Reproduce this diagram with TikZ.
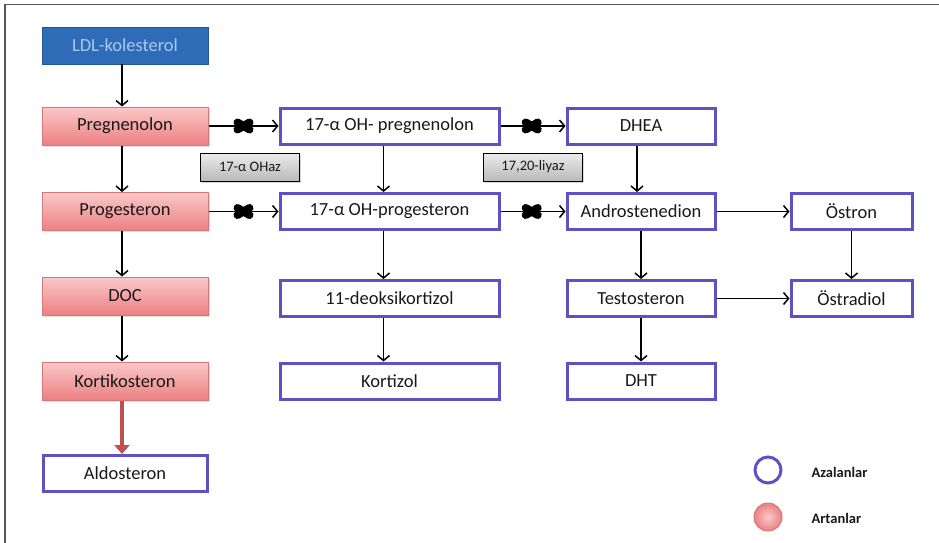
\documentclass[tikz,border=0pt]{standalone}
\usepackage{fontspec}
\setmainfont{Carlito}
\usetikzlibrary{arrows.meta,shadows,calc}
\definecolor{bbord}{RGB}{92,82,196}
\definecolor{pinkT}{RGB}{250,200,200}
\definecolor{pinkB}{RGB}{236,128,130}
\definecolor{pbord}{RGB}{214,120,122}
\definecolor{ldlblue}{RGB}{46,108,184}
\definecolor{ldltext}{RGB}{170,200,240}
\definecolor{redarr}{RGB}{192,80,77}
\definecolor{txt}{RGB}{25,25,25}
\definecolor{frame}{RGB}{85,85,85}
\tikzset{
  base/.style={rectangle, inner sep=0pt, font=\fontsize{18.5}{21}\selectfont, text=txt},
  pinkbox/.style={base, minimum width=166pt, minimum height=38pt, top color=pinkT, bottom color=pinkB, draw=pbord, line width=1pt, drop shadow={shadow xshift=1.5pt, shadow yshift=-1.5pt, opacity=0.25}},
  bluebox/.style={base, minimum height=36pt, fill=white, draw=bbord, line width=3pt},
  ldlbox/.style={base, minimum width=166pt, minimum height=37pt, fill=ldlblue, text=ldltext, draw=ldlblue!80!black, line width=0.6pt},
  graybox/.style={rectangle, inner sep=0pt, minimum width=99pt, minimum height=28pt, top color=gray!15, bottom color=gray!55, draw=black, line width=0.8pt, font=\fontsize{14.5}{16}\selectfont, text=txt, drop shadow={shadow xshift=1.5pt, shadow yshift=-1.5pt, opacity=0.3}},
  arr/.style={draw=black, line width=1.5pt, -{Straight Barb[length=5pt,width=12pt,line width=1.5pt]}},
  redarrow/.style={draw=redarr, line width=3.5pt, -{Triangle[length=9pt,width=15pt]}},
  blobline/.style={line width=8pt, line cap=round, black},
  legtext/.style={font=\bfseries\fontsize{14.5}{16}\selectfont, text=txt, anchor=west}
}
\begin{document}
\begin{tikzpicture}[x=1pt,y=-1pt]
\useasboundingbox (0,0) rectangle (939,543);
\fill[white] (0,0) rectangle (939,543);
\draw[frame, line width=1.6pt] (5,543) -- (5,4.5) -- (939,4.5);

% left column
\node[ldlbox] (ldl) at (125,45.5) {LDL-kolesterol};
\node[pinkbox] (preg) at (125,126) {Pregnenolon};
\node[pinkbox] (prog) at (125,211.5) {Progesteron};
\node[pinkbox] (doc) at (125,296) {DOC};
\node[pinkbox] (korti) at (125,381) {Kortikosteron};
\node[bluebox, minimum width=164pt] (aldo) at (125,473.5) {Aldosteron};

% second column
\node[bluebox, minimum width=219pt] (ohpreg) at (389.5,126) {17-α OH- pregnenolon};
\node[bluebox, minimum width=219pt] (ohprog) at (389.5,211.5) {17-α OH-progesteron};
\node[bluebox, minimum width=219pt] (deoksi) at (389.5,298.5) {11-deoksikortizol};
\node[bluebox, minimum width=219pt] (kortizol) at (389.5,381) {Kortizol};

% third column
\node[bluebox, minimum width=148pt] (dhea) at (641,126) {DHEA};
\node[bluebox, minimum width=148pt] (andro) at (641,211.5) {Androstenedion};
\node[bluebox, minimum width=148pt] (testo) at (641,298.5) {Testosteron};
\node[bluebox, minimum width=148pt] (dht) at (641,381) {DHT};

% fourth column
\node[bluebox, minimum width=121pt] (ostron) at (851.5,211.5) {Östron};
\node[bluebox, minimum width=121pt] (ostradiol) at (851.5,298.5) {Östradiol};

% enzyme labels
\node[graybox] (ohaz) at (250,167) {17-α OHaz};
\node[graybox] (liyaz) at (533,167) {17,20-liyaz};

% vertical arrows
\draw[arr] ([xshift=-3pt]ldl.south) -- ([xshift=-3pt]preg.north);
\draw[arr] ([xshift=-3pt]preg.south) -- ([xshift=-3pt]prog.north);
\draw[arr] ([xshift=-3pt]prog.south) -- ([xshift=-3pt]doc.north);
\draw[arr] ([xshift=-3pt]doc.south) -- ([xshift=-3pt]korti.north);
\draw[redarrow] ([xshift=-3pt]korti.south) -- ([xshift=-3pt]aldo.north);
\draw[arr] ([xshift=-6pt]ohpreg.south) -- ([xshift=-6pt]ohprog.north);
\draw[arr] ([xshift=-6pt]ohprog.south) -- ([xshift=-6pt]deoksi.north);
\draw[arr] ([xshift=-6pt]deoksi.south) -- ([xshift=-6pt]kortizol.north);
\draw[arr] ([xshift=-4pt]dhea.south) -- ([xshift=-4pt]andro.north);
\draw[arr] (andro) -- (testo);
\draw[arr] (testo) -- (dht);
\draw[arr] (ostron) -- (ostradiol);

% horizontal arrows
\draw[arr] (preg) -- coordinate (b1) (ohpreg);
\draw[arr] (ohpreg) -- coordinate[pos=0.48] (b2) (dhea);
\draw[arr] (prog) -- coordinate (b3) (ohprog);
\draw[arr] (ohprog) -- coordinate[pos=0.48] (b4) (andro);
\draw[arr] (andro) -- (ostron);
\draw[arr] (testo) -- (ostradiol);

% blocking marks
\foreach \b in {b1,b2,b3,b4}{
  \draw[blobline] ($(\b)+(-6,-3.5)$) -- ($(\b)+(6,3.5)$);
  \draw[blobline] ($(\b)+(-6,3.5)$) -- ($(\b)+(6,-3.5)$);
}

% legend
\node[circle, draw=bbord, line width=3pt, fill=white, minimum size=26pt, inner sep=0pt] (lc1) at (768,470) {};
\node[circle, draw=pbord, line width=1pt, inner color=pinkT, outer color=pinkB, minimum size=28pt, inner sep=0pt] (lc2) at (768,517) {};
\node[legtext] (l1) at (808,472) {Azalanlar};
\node[legtext] (l2) at (808,518) {Artanlar};
\end{tikzpicture}
\end{document}
